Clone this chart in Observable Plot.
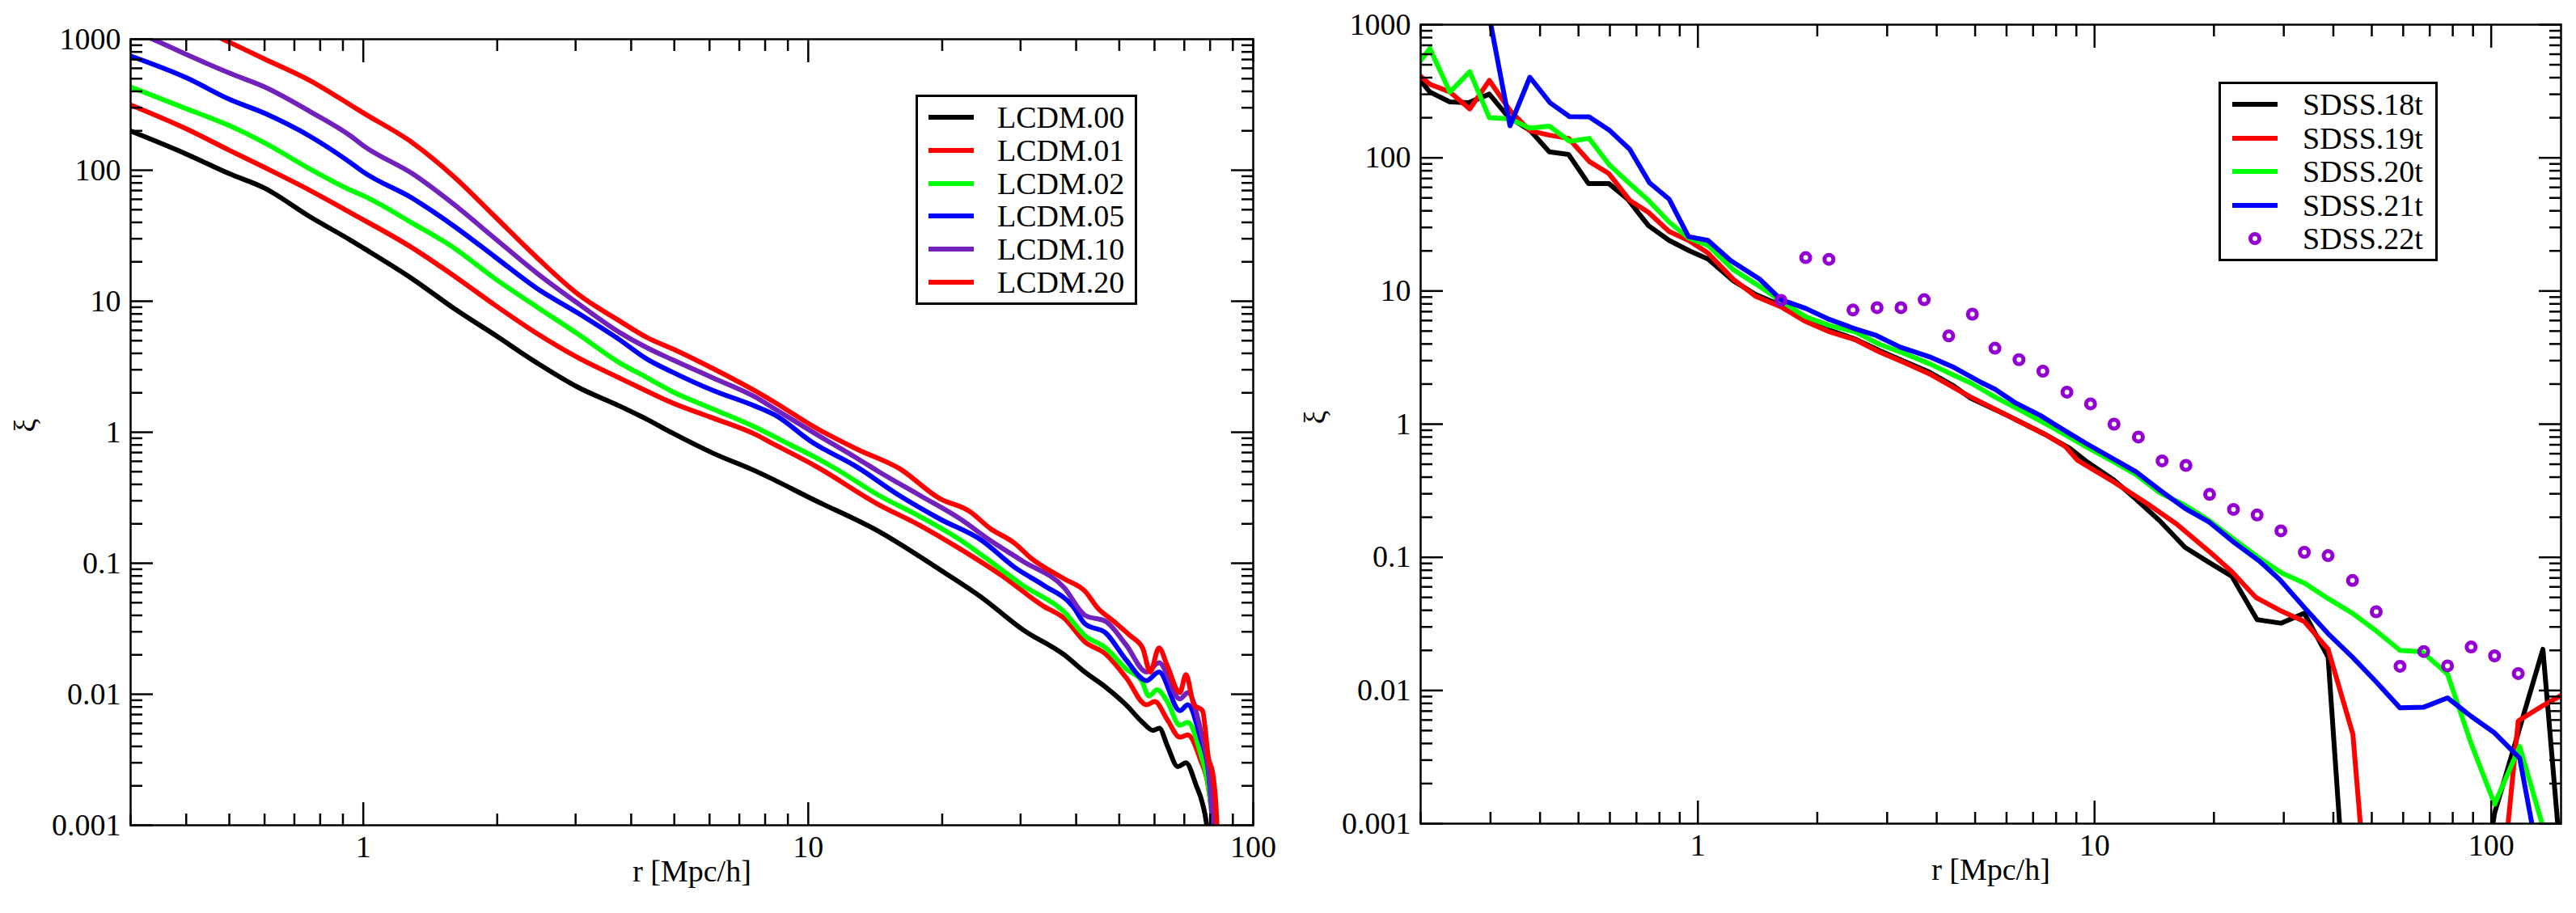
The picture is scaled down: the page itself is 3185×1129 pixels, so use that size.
<!DOCTYPE html>
<html>
<head>
<meta charset="utf-8">
<script src="https://cdn.jsdelivr.net/npm/d3@7"></script>
<script src="https://cdn.jsdelivr.net/npm/@observablehq/plot@0.6"></script>
<style>
  body { margin: 0; background: #fff; }
  #page { position: relative; width: 3185px; height: 1129px; font-family: "Liberation Serif", "Times New Roman", serif; }
  #page svg { position: absolute; top: 0; }
  .legend { position: absolute; border: 3px solid #000; background: #fff; box-sizing: border-box; font-size: 38px; color: #000; }
  .legend .swatch { position: absolute; height: 6px; width: 56px; }
  .legend .ring { position: absolute; width: 16px; height: 16px; border-radius: 50%; box-sizing: border-box; border: 5px solid #9400d3; }
  .legend .name { position: absolute; line-height: 38px; white-space: nowrap; }
</style>
</head>
<body>
<div id="page"></div>
<script>
// ---- left panel: LCDM mocks, [r, xi]
const lcdmNames = ["LCDM.00", "LCDM.01", "LCDM.02", "LCDM.05", "LCDM.10", "LCDM.20"];
const lcdmColors = ["#000000", "#ff0000", "#00ff00", "#0000ff", "#7221bc", "#ff0000"];

const lcdm00 = [[0.3,199],[0.4,133],[0.5,94],[0.6,73],[0.76,44],[0.94,29],[1.0,25.5],[1.29,14.8],[1.6,8.8],[1.98,5.5],[2.45,3.4],[3.04,2.2],[3.76,1.59],[4.35,1.25],[4.94,0.99],[6.12,0.69],[7.57,0.51],[10.4,0.30],[14.4,0.175],[19.8,0.089],[24.5,0.055],[30.4,0.031],[37.6,0.020],[41.8,0.0148],[46.5,0.0114],[51.8,0.0083],[56.4,0.0061],[59.5,0.0053],[61.5,0.0055],[64.2,0.0040],[67.7,0.0028],[70.6,0.0030],[74.5,0.0020],[76.9,0.00147],[78.6,0.001],[80,0.0005]];
const lcdm01 = [[0.3,315],[0.4,207],[0.5,142],[0.6,105],[0.76,70],[0.94,47],[1.29,25.5],[1.6,15.6],[1.98,9.3],[2.45,5.7],[3.04,3.7],[3.76,2.6],[4.35,2.05],[4.94,1.68],[6.12,1.28],[7.57,0.97],[8.43,0.80],[10.4,0.55],[14.4,0.28],[17.8,0.195],[22.0,0.128],[27.3,0.080],[33.8,0.047],[37.6,0.038],[41.9,0.025],[46.6,0.0203],[51.8,0.0134],[57.6,0.0083],[60.1,0.0088],[64.1,0.0064],[68.4,0.0047],[71.3,0.0049],[76.0,0.0032],[79.4,0.0019],[81.1,0.001],[82,0.0005]];
const lcdm02 = [[0.3,432],[0.4,295],[0.5,219],[0.6,162],[0.76,102],[0.94,70],[1.0,64],[1.29,39.4],[1.6,25.5],[1.98,14.8],[2.45,9.1],[3.04,5.6],[3.76,3.4],[4.35,2.6],[4.94,2.05],[6.12,1.5],[7.57,1.1],[9.0,0.82],[10.4,0.64],[11.6,0.52],[14.4,0.33],[17.8,0.228],[22.0,0.150],[25.6,0.104],[30.3,0.068],[37.6,0.0425],[41.9,0.0279],[46.6,0.0226],[51.8,0.0156],[56.1,0.0127],[58.3,0.0097],[60.8,0.0108],[64.1,0.0088],[68.4,0.0058],[71.3,0.0061],[76.0,0.0036],[79.4,0.0019],[81.1,0.001],[82,0.0005]];
const lcdm05 = [[0.3,745],[0.4,509],[0.5,348],[0.6,272],[0.76,181],[0.94,113],[1.0,97],[1.29,61],[1.6,37.4],[1.98,21.7],[2.45,12.6],[3.04,8.1],[3.76,5.1],[4.35,3.6],[4.94,2.89],[6.12,2.08],[7.57,1.59],[8.43,1.35],[10.2,0.84],[12.9,0.54],[16.0,0.33],[19.8,0.217],[24.5,0.150],[29.1,0.093],[33.8,0.068],[39.3,0.047],[41.9,0.0344],[46.6,0.0294],[51.8,0.0183],[57.6,0.0127],[61.4,0.0148],[68.4,0.0075],[71.3,0.0083],[76.0,0.0047],[79.4,0.0025],[81.1,0.001],[82,0.0005]];
const lcdm10 = [[0.3,1200],[0.337,1000],[0.4,766],[0.5,552],[0.6,432],[0.76,280],[0.94,181],[1.0,154],[1.29,94],[1.6,54.7],[1.98,30],[2.45,16.5],[3.04,9.6],[3.76,5.8],[4.35,4.4],[4.94,3.59],[6.12,2.59],[7.57,1.87],[8.43,1.50],[10.4,0.97],[12.9,0.63],[14.4,0.50],[17.8,0.33],[22.0,0.217],[25.6,0.150],[30.3,0.104],[37.6,0.065],[41.9,0.040],[46.6,0.036],[51.8,0.0238],[57.6,0.0148],[61.4,0.0174],[68.4,0.0092],[71.3,0.0103],[76.0,0.0055],[79.4,0.0025],[81.6,0.0008],[82.5,0.0005]];
const lcdm20 = [[0.3,2100],[0.484,1000],[0.6,706],[0.76,482],[0.94,312],[1.0,274],[1.29,162],[1.6,89],[1.98,44],[2.45,21.7],[3.04,11.3],[3.76,7.1],[4.35,5.26],[4.94,4.35],[6.12,3.05],[7.57,2.08],[8.43,1.68],[10.4,1.08],[12.9,0.74],[16.0,0.53],[19.8,0.31],[23.0,0.25],[25.6,0.185],[29.1,0.142],[31.7,0.109],[37.6,0.076],[41.9,0.061],[44.6,0.046],[48.6,0.036],[52.9,0.028],[56.4,0.0226],[58.7,0.0148],[61.4,0.0226],[64.1,0.0165],[68.4,0.0103],[70.6,0.0141],[73.6,0.0083],[76.9,0.0075],[79.4,0.0032],[81.1,0.0025],[82.9,0.001],[83.5,0.0005]];
const lcdmSeries = [lcdm00, lcdm01, lcdm02, lcdm05, lcdm10, lcdm20];

// ---- right panel: SDSS samples, [r, xi]
const sdssNames = ["SDSS.18t", "SDSS.19t", "SDSS.20t", "SDSS.21t", "SDSS.22t"];
const sdssColors = ["#000000", "#ff0000", "#00ff00", "#0000ff", "#9400d3"];

const sdss18 = [[0.189,465],[0.211,312],[0.237,263],[0.264,259],[0.298,301],[0.332,204],[0.378,160],[0.422,111],[0.472,106],[0.530,64],[0.597,64],[0.665,49],[0.750,31],[0.846,24],[0.953,20],[1.06,17.4],[1.23,11.9],[1.40,9.4],[1.62,7.8],[1.87,6.1],[2.15,5.07],[2.49,4.36],[2.87,3.57],[3.32,2.96],[3.83,2.46],[4.42,1.93],[4.87,1.57],[6.04,1.16],[7.49,0.84],[8.65,0.66],[9.5,0.53],[11.2,0.38],[12.7,0.274],[14.6,0.188],[16.9,0.119],[19.5,0.091],[22.2,0.072],[25.7,0.034],[29.5,0.032],[33.8,0.038],[38.8,0.0178],[44.7,0.00004],[89,0.0001],[102,0.0012],[117,0.0048],[135,0.0204],[155,0.00016]];
const sdss19 = [[0.189,477],[0.211,357],[0.237,312],[0.266,233],[0.298,381],[0.336,227],[0.377,160],[0.422,148],[0.472,140],[0.532,94],[0.597,76],[0.673,48],[0.750,39],[0.846,28],[0.947,24],[1.06,19.3],[1.23,12.2],[1.40,9.1],[1.62,7.6],[1.87,5.9],[2.15,4.93],[2.49,4.31],[2.87,3.48],[3.32,2.89],[3.83,2.39],[4.42,1.88],[4.87,1.60],[6.04,1.16],[7.49,0.84],[8.44,0.68],[9.06,0.535],[11.2,0.367],[13.6,0.252],[16.1,0.178],[19.5,0.110],[22.2,0.078],[25.5,0.050],[29.3,0.040],[33.8,0.033],[38.8,0.0204],[44.8,0.0047],[51.3,0.000037],[102,0.000095],[117,0.0059],[135,0.0077],[155,0.0097]];
const sdss20 = [[0.189,431],[0.211,662],[0.237,312],[0.266,444],[0.298,200],[0.336,196],[0.377,167],[0.422,173],[0.475,133],[0.532,140],[0.597,89],[0.673,64],[0.750,48],[0.846,33],[0.947,25],[1.06,22],[1.23,14.4],[1.40,11.3],[1.62,8.4],[1.87,6.4],[2.15,5.5],[2.49,4.93],[2.87,3.98],[3.32,3.39],[3.83,2.85],[4.42,2.33],[4.87,2.04],[5.61,1.60],[6.64,1.23],[7.85,0.94],[9.5,0.68],[11.2,0.52],[12.7,0.42],[14.6,0.305],[16.9,0.246],[19.5,0.188],[22.5,0.136],[26.0,0.099],[29.7,0.076],[33.8,0.064],[38.8,0.049],[44.7,0.038],[51.3,0.028],[58.9,0.020],[67,0.0195],[77.6,0.0133],[89,0.0040],[102,0.0014],[118,0.0038],[135,0.00095],[155,0.0002]];
const sdss21 = [[0.298,1150],[0.336,174],[0.377,403],[0.424,259],[0.475,204],[0.532,203],[0.597,162],[0.673,116],[0.755,65],[0.846,49],[0.947,25.6],[1.06,24],[1.21,16.9],[1.43,12.3],[1.62,8.6],[1.87,7.4],[2.15,6.1],[2.49,5.2],[2.80,4.67],[3.24,3.78],[3.83,3.21],[4.42,2.67],[5.21,2.04],[5.61,1.83],[6.33,1.44],[7.31,1.16],[8.44,0.89],[9.5,0.72],[12.7,0.44],[14.6,0.32],[16.9,0.233],[19.5,0.183],[22.5,0.129],[26.0,0.094],[29.3,0.068],[33.8,0.042],[38.8,0.0267],[44.7,0.0178],[51.3,0.0116],[58.9,0.0074],[67.7,0.0075],[77.6,0.0088],[89,0.0064],[102,0.0048],[118,0.0031],[135,0.00036]];
const sdss22 = [[1.62,8.5],[1.87,17.8],[2.14,17.3],[2.46,7.2],[2.83,7.5],[3.25,7.5],[3.72,8.6],[4.29,4.6],[4.92,6.7],[5.61,3.72],[6.45,3.05],[7.41,2.50],[8.52,1.74],[9.77,1.42],[11.2,1.00],[12.9,0.80],[14.8,0.53],[17.0,0.49],[19.5,0.297],[22.4,0.229],[25.7,0.208],[29.5,0.158],[33.8,0.109],[38.8,0.103],[44.7,0.067],[51.3,0.039],[58.9,0.0152],[67.6,0.0196],[77.6,0.0153],[89.0,0.0212],[102,0.0182],[117,0.0134]];
const sdssLines = [sdss18, sdss19, sdss20, sdss21];

// ---- ticks
const xMajor = [1, 10, 100];
const xLabels = ["1", "10", "100"];
const xMinorLeft = [0.3, 0.4, 0.5, 0.6, 0.7, 0.8, 0.9, 2, 3, 4, 5, 6, 7, 8, 9, 20, 30, 40, 50, 60, 70, 80, 90];
const xMinorRight = [0.2, 0.3, 0.4, 0.5, 0.6, 0.7, 0.8, 0.9, 2, 3, 4, 5, 6, 7, 8, 9, 20, 30, 40, 50, 60, 70, 80, 90];
const yMajor = [0.001, 0.01, 0.1, 1, 10, 100, 1000];
const yLabels = ["0.001", "0.01", "0.1", "1", "10", "100", "1000"];
const yMinor = yMajor.slice(0, -1).flatMap(d => [2, 3, 4, 5, 6, 7, 8, 9].map(k => +(k * d).toPrecision(3)));

function tickMarks(xMinor) {
  const t = {strokeWidth: 2.5, fill: "none", label: null};
  return [
    Plot.axisX(xMajor, {...t, anchor: "bottom", tickSize: -28}),
    Plot.axisX(xMajor, {...t, anchor: "top", tickSize: -28}),
    Plot.axisX(xMinor, {...t, anchor: "bottom", tickSize: -14}),
    Plot.axisX(xMinor, {...t, anchor: "top", tickSize: -14}),
    Plot.axisY(yMajor, {...t, anchor: "left", tickSize: -28}),
    Plot.axisY(yMajor, {...t, anchor: "right", tickSize: -28}),
    Plot.axisY(yMinor, {...t, anchor: "left", tickSize: -15}),
    Plot.axisY(yMinor, {...t, anchor: "right", tickSize: -15}),
    Plot.axisX(xMajor, {anchor: "bottom", tickSize: 0, tickPadding: 13, label: null, fontSize: 38, tickFormat: d => xLabels[xMajor.indexOf(d)]}),
    Plot.axisY(yMajor, {anchor: "left", tickSize: 0, tickPadding: 12, label: null, fontSize: 38, tickFormat: d => yLabels[yMajor.indexOf(d)]}),
    Plot.frame({strokeWidth: 2.5}),
    Plot.text(["r [Mpc/h]"], {frameAnchor: "bottom", dy: 69, fontSize: 38}),
    Plot.text(["ξ"], {frameAnchor: "left", dx: -130, rotate: -90, fontSize: 38})
  ];
}

const base = {
  height: 1129,
  y: {type: "log", domain: [0.001, 1000]},
  style: "font-family: 'Liberation Serif', 'Times New Roman', serif; font-size: 38px; color: #000; background: transparent; overflow: visible;"
};

const left = Plot.plot({
  ...base,
  width: 1590,
  marginLeft: 161, marginRight: 41, marginTop: 48, marginBottom: 109,
  x: {type: "log", domain: [0.3, 100]},
  marks: [
    ...lcdmSeries.map((s, i) => Plot.line(s, {x: d => d[0], y: d => d[1], stroke: lcdmColors[i], strokeWidth: 6, curve: "monotone-x", clip: true})),
    ...tickMarks(xMinorLeft)
  ]
});

const right = Plot.plot({
  ...base,
  width: 1595,
  marginLeft: 166, marginRight: 19, marginTop: 30, marginBottom: 111,
  x: {type: "log", domain: [0.2, 150]},
  marks: [
    ...sdssLines.map((s, i) => Plot.line(s, {x: d => d[0], y: d => d[1], stroke: sdssColors[i], strokeWidth: 6, clip: true})),
    Plot.dot(sdss22, {x: d => d[0], y: d => d[1], r: 5.5, stroke: sdssColors[4], strokeWidth: 5, fill: "none"}),
    ...tickMarks(xMinorRight)
  ]
});

const page = document.getElementById("page");
left.style.left = "0px";
right.style.left = "1590px";
page.appendChild(left);
page.appendChild(right);

function legend(names, colors, box, rowTop, rowStep, swatchLeft, textLeft, markerIndex) {
  const div = document.createElement("div");
  div.className = "legend";
  Object.assign(div.style, {left: box[0] + "px", top: box[1] + "px", width: box[2] + "px", height: box[3] + "px"});
  names.forEach((name, i) => {
    const cy = rowTop + i * rowStep;
    if (i === markerIndex) {
      const ring = document.createElement("div");
      ring.className = "ring";
      ring.style.left = (swatchLeft + 28 - 8) + "px";
      ring.style.top = (cy - 8) + "px";
      ring.style.borderColor = colors[i];
      div.appendChild(ring);
    } else {
      const sw = document.createElement("div");
      sw.className = "swatch";
      sw.style.left = swatchLeft + "px";
      sw.style.top = (cy - 3) + "px";
      sw.style.background = colors[i];
      div.appendChild(sw);
    }
    const t = document.createElement("span");
    t.className = "name";
    t.textContent = name;
    t.style.left = textLeft + "px";
    t.style.top = (cy - 19) + "px";
    div.appendChild(t);
  });
  page.appendChild(div);
}

legend(lcdmNames, lcdmColors, [1132, 117, 274, 260], 25, 40.8, 13, 98, -1);
legend(sdssNames, sdssColors, [2743, 101, 271, 222], 25, 41.5, 14, 101, 4);
</script>
</body>
</html>
